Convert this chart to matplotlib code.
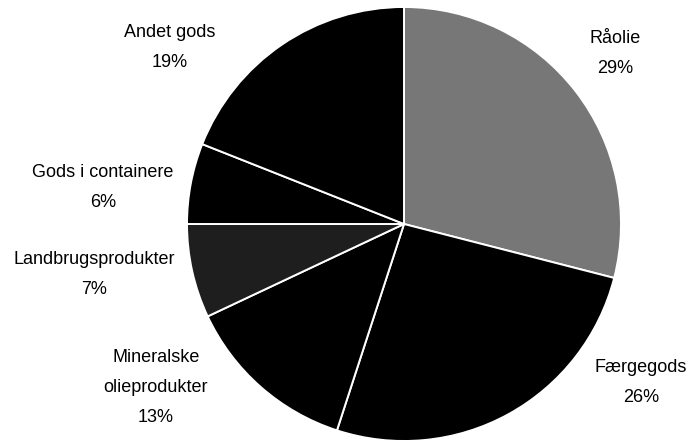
import matplotlib.pyplot as plt

# Data
categories = ["Råolie", "Færgegods", "Mineralske\nolieprodukter",
              "Landbrugsprodukter", "Gods i containere", "Andet gods"]
shares = [29, 26, 13, 7, 6, 19]
colors = ["#777777", "black", "black", "#1e1e1e", "black", "black"]

# label anchor positions in pixels (x, y of first line from top)
label_pos = [(615, 38), (641, 368), (156, 357), (94, 260), (103, 172), (170, 32)]

W, H = 693, 440
fig = plt.figure(figsize=(W / 100, H / 100), dpi=100)
ax = fig.add_axes([0, 0, 1, 1])

wedges, _ = ax.pie(shares, colors=colors, startangle=90, counterclock=False,
                   center=(404, H - 224), radius=217, frame=True,
                   wedgeprops=dict(edgecolor="white", linewidth=1.4))
ax.set_xlim(0, W)
ax.set_ylim(0, H)
ax.axis("off")

line_h = 30
for name, val, (x, y) in zip(categories, shares, label_pos):
    lines = name.split("\n") + [f"{val}%"]
    for i, txt in enumerate(lines):
        ax.text(x, H - (y + i * line_h), txt, ha="center", va="center",
                fontsize=13, family="Liberation Sans", color="black")

fig.savefig("out.png", dpi=100)
